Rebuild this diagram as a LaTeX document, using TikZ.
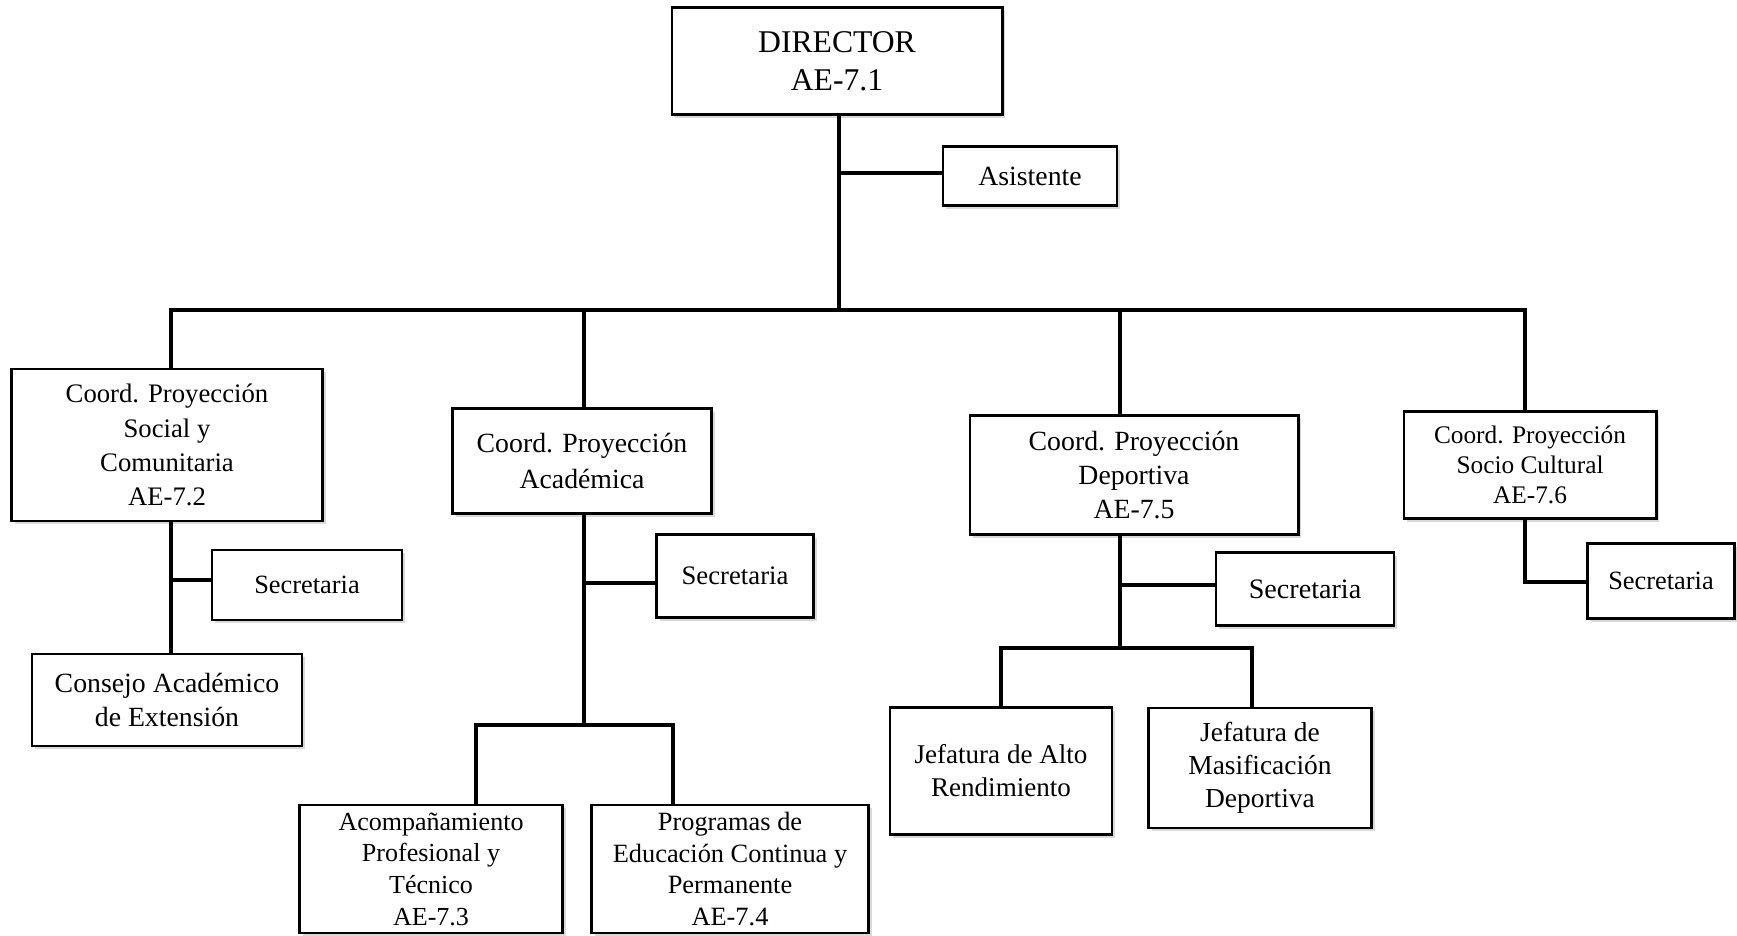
\documentclass[tikz,border=0pt]{standalone}
\usepackage{fontspec}
\setmainfont{Liberation Serif}
\usetikzlibrary{shadows}

\tikzset{
  box/.style={draw, line width=0.8pt, fill=white, align=center, inner sep=1pt,
    drop shadow={shadow xshift=0.9pt, shadow yshift=-0.9pt, opacity=0.3}},
  conn/.style={line width=0.9pt},
}

\begin{document}
\begin{tikzpicture}[x=0.01cm, y=-0.01cm]
\useasboundingbox (0,0) rectangle (1737,935);

% top level
\node[box, minimum width=3.3cm, minimum height=1.07cm, font=\fontsize{9}{10.8}\selectfont] (dir) at (837,61) {DIRECTOR\\AE-7.1};
\node[box, minimum width=1.74cm, minimum height=0.59cm, font=\fontsize{7.9}{9.5}\selectfont] (asis) at (1030,176) {Asistente};

% coordinators
\node[box, minimum width=3.11cm, minimum height=1.52cm, font=\fontsize{7.6}{9.7}\selectfont] (cps) at (167,445) {Coord. Proyecci\'on\\Social y\\Comunitaria\\AE-7.2};
\node[box, minimum width=2.59cm, minimum height=1.05cm, font=\fontsize{7.9}{10}\selectfont] (cpa) at (582,461) {Coord. Proyecci\'on\\Acad\'emica};
\node[box, minimum width=3.28cm, minimum height=1.19cm, font=\fontsize{7.9}{9.7}\selectfont] (cpd) at (1134,475) {Coord. Proyecci\'on\\Deportiva\\AE-7.5};
\node[box, minimum width=2.52cm, minimum height=1.07cm, font=\fontsize{7.2}{8.6}\selectfont] (cpc) at (1530,465) {Coord. Proyecci\'on\\Socio Cultural\\AE-7.6};

% secretarias
\node[box, minimum width=1.90cm, minimum height=0.70cm, font=\fontsize{7.5}{9}\selectfont] (sec1) at (307,585) {Secretaria};
\node[box, minimum width=1.57cm, minimum height=0.83cm, font=\fontsize{7.6}{9}\selectfont] (sec2) at (735,576) {Secretaria};
\node[box, minimum width=1.78cm, minimum height=0.73cm, font=\fontsize{8}{9}\selectfont] (sec3) at (1305,589) {Secretaria};
\node[box, minimum width=1.47cm, minimum height=0.75cm, font=\fontsize{7.5}{9}\selectfont] (sec4) at (1661,581) {Secretaria};

% lower level
\node[box, minimum width=2.70cm, minimum height=0.92cm, font=\fontsize{7.9}{9.5}\selectfont] (cons) at (167,700) {Consejo Acad\'emico\\de Extensi\'on};
\node[box, minimum width=2.63cm, minimum height=1.28cm, font=\fontsize{7.4}{9}\selectfont] (acom) at (431,869) {Acompa\~namiento\\Profesional y\\T\'ecnico\\AE-7.3};
\node[box, minimum width=2.77cm, minimum height=1.28cm, font=\fontsize{7.5}{9}\selectfont] (prog) at (730,869) {Programas de\\Educaci\'on Continua y\\Permanente\\AE-7.4};
\node[box, minimum width=2.22cm, minimum height=1.27cm, font=\fontsize{7.7}{9.4}\selectfont] (jal) at (1001,771) {Jefatura de Alto\\Rendimiento};
\node[box, minimum width=2.23cm, minimum height=1.20cm, font=\fontsize{7.8}{9.4}\selectfont] (jma) at (1260,768) {Jefatura de\\Masificaci\'on\\Deportiva};

% junction points
\coordinate (bus) at (839,310);
\coordinate (asj) at (839,173);
\coordinate (d1) at (171,310);
\coordinate (d2) at (584,310);
\coordinate (d3) at (1120,310);
\coordinate (d4) at (1525,310);
\coordinate (s1) at (171,580);
\coordinate (s2) at (584,583);
\coordinate (t2) at (584,725);
\coordinate (u2a) at (476,725);
\coordinate (u2b) at (673,725);
\coordinate (s3) at (1120,585);
\coordinate (t3) at (1120,648);
\coordinate (u3a) at (1001,648);
\coordinate (u3b) at (1252,648);
\coordinate (s4) at (1525,582);

% connectors
\draw[conn] (dir.south -| bus) -- (bus);
\draw[conn] (asj) -- (asj -| asis.west);
\draw[conn] (d1 |- cps.north) -- (d1) -- (d4) -- (d4 |- cpc.north);
\draw[conn] (d2) -- (d2 |- cpa.north);
\draw[conn] (d3) -- (d3 |- cpd.north);

\draw[conn] (d1 |- cps.south) -- (d1 |- cons.north);
\draw[conn] (s1) -- (s1 -| sec1.west);

\draw[conn] (d2 |- cpa.south) -- (t2);
\draw[conn] (s2) -- (s2 -| sec2.west);
\draw[conn] (u2a |- acom.north) -- (u2a) -- (u2b) -- (u2b |- prog.north);

\draw[conn] (d3 |- cpd.south) -- (t3);
\draw[conn] (s3) -- (s3 -| sec3.west);
\draw[conn] (u3a |- jal.north) -- (u3a) -- (u3b) -- (u3b |- jma.north);

\draw[conn] (d4 |- cpc.south) -- (s4) -- (s4 -| sec4.west);
\end{tikzpicture}
\end{document}
